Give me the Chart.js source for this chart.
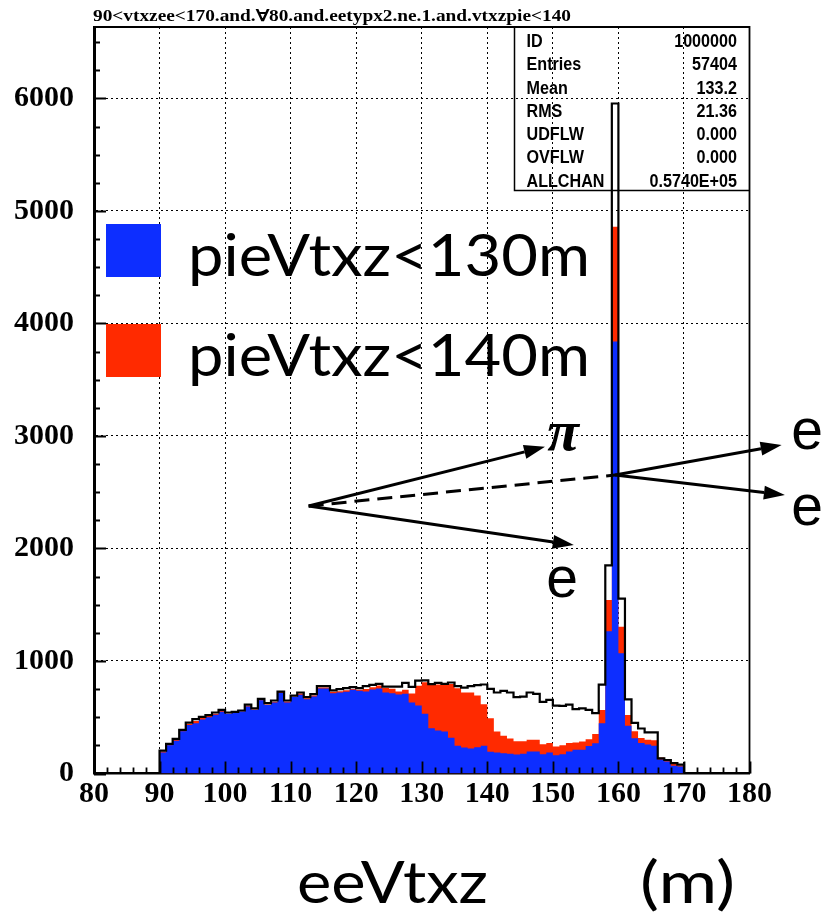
<!DOCTYPE html>
<html>
<head>
<meta charset="utf-8">
<script src="https://cdn.jsdelivr.net/npm/chart.js@4/dist/chart.umd.min.js"></script>
<style>
  html, body { margin: 0; padding: 0; background: #fff; }
  canvas { display: block; }
</style>
</head>
<body>
<canvas id="c" width="822" height="915"></canvas>
<script>
// Histogram binning: 1 m bins starting at 90 m
const binStart = 90;
const binWidth = 1;

// All ee vertices (counts per bin, 90..169)
const totalCounts = [
  204, 264, 308, 388, 453, 483, 504, 518, 542, 566,
  542, 548, 560, 613, 578, 663, 625, 649, 728, 649,
  693, 720, 678, 705, 776, 776, 738, 750, 758, 767,
  758, 776, 788, 797, 773, 773, 773, 806, 770, 826,
  827, 794, 806, 797, 809, 776, 764, 776, 785, 791,
  753, 720, 735, 720, 678, 684, 720, 708, 637, 655,
  604, 601, 613, 572, 578, 565, 536, 790, 1850, 5955,
  1555, 658, 450, 400, 366, 366, 134, 120, 92, 78
];

// Events with pieVtxz < 140 m
const below140 = [
  196, 258, 300, 380, 440, 466, 495, 510, 530, 556,
  530, 540, 552, 602, 568, 660, 614, 638, 726, 640,
  682, 710, 668, 694, 764, 764, 726, 730, 740, 752,
  744, 752, 767, 782, 761, 753, 729, 744, 711, 780,
  812, 788, 790, 790, 795, 758, 720, 720, 693, 616,
  492, 373, 335, 311, 287, 287, 299, 299, 261, 270,
  240, 252, 270, 276, 284, 305, 350, 565, 1542, 4860,
  1305, 520, 375, 316, 300, 295, 143, 113, 86, 70
];

// Events with pieVtxz < 130 m
const below130 = [
  187, 252, 290, 376, 430, 447, 480, 500, 522, 548,
  530, 540, 552, 596, 565, 652, 608, 630, 718, 632,
  680, 700, 660, 685, 755, 755, 714, 720, 726, 744,
  735, 729, 747, 756, 720, 714, 702, 708, 631, 604,
  530, 403, 382, 373, 317, 246, 231, 222, 234, 246,
  193, 187, 181, 175, 169, 175, 196, 196, 172, 187,
  163, 172, 196, 210, 210, 245, 268, 446, 1265, 3840,
  1068, 425, 313, 272, 258, 246, 124, 107, 68, 62
];

// Axes
const xRange = [80, 180];
const yRange = [0, 6635];
const xTickValues = [80, 90, 100, 110, 120, 130, 140, 150, 160, 170, 180];
const yTickValues = [0, 1000, 2000, 3000, 4000, 5000, 6000];
const xMinorStep = 2;
const yMinorStep = 250;

// Texts
const titleText = '90<vtxzee<170.and.\u220080.and.eetypx2.ne.1.and.vtxzpie<140';
const statLabels = ['ID', 'Entries', 'Mean', 'RMS', 'UDFLW', 'OVFLW', 'ALLCHAN'];
const statValues = ['1000000', '57404', '133.2', '21.36', '0.000', '0.000', '0.5740E+05'];
const legendLabels = ['pieVtxz<130m', 'pieVtxz<140m'];
const axisTitle = 'eeVtxz';
const axisUnit = '(m)';

const BLUE = '#0d2eff';
const RED = '#ff2a00';

// Histogram as a closed step outline: rises at the first edge, falls at the last
function stepPoints(counts) {
  const pts = [{ x: binStart, y: 0 }];
  counts.forEach((v, i) => pts.push({ x: binStart + i * binWidth, y: v }));
  pts.push({ x: binStart + counts.length * binWidth, y: 0 });
  return pts;
}

function drawFitted(ctx, text, x, yb, font, width, align) {
  ctx.save();
  ctx.font = font;
  const w = ctx.measureText(text).width;
  const s = width ? width / w : 1;
  ctx.translate(x, yb);
  ctx.scale(s, 1);
  ctx.textAlign = align || 'left';
  ctx.textBaseline = 'alphabetic';
  ctx.fillText(text, 0, 0);
  ctx.restore();
}

function arrow(ctx, p0, p1, headLen, headHalf) {
  const ang = Math.atan2(p1[1] - p0[1], p1[0] - p0[0]);
  const bx = p1[0] - headLen * Math.cos(ang);
  const by = p1[1] - headLen * Math.sin(ang);
  ctx.beginPath();
  ctx.moveTo(p0[0], p0[1]);
  ctx.lineTo(bx, by);
  ctx.stroke();
  ctx.beginPath();
  ctx.moveTo(p1[0], p1[1]);
  ctx.lineTo(bx + headHalf * Math.sin(ang), by - headHalf * Math.cos(ang));
  ctx.lineTo(bx - headHalf * Math.sin(ang), by + headHalf * Math.cos(ang));
  ctx.closePath();
  ctx.fill();
}

const decor = {
  id: 'decor',
  beforeDraw(chart) {
    const ctx = chart.ctx;
    ctx.save();
    ctx.fillStyle = '#fff';
    ctx.fillRect(0, 0, chart.width, chart.height);
    ctx.restore();
  },
  afterDraw(chart) {
    const { ctx, chartArea: a, scales: { x, y } } = chart;
    const P = (xv, yv) => [x.getPixelForValue(xv), y.getPixelForValue(yv)];
    ctx.save();

    // inward tick marks
    ctx.strokeStyle = '#000';
    ctx.lineWidth = 1.8;
    ctx.beginPath();
    for (let v = yRange[0]; v <= yRange[1]; v += yMinorStep) {
      const py = Math.round(y.getPixelForValue(v)) + 0.5;
      const len = yTickValues.includes(v) ? 12 : 6;
      ctx.moveTo(a.left, py);
      ctx.lineTo(a.left + len, py);
    }
    for (let v = xRange[0]; v <= xRange[1]; v += xMinorStep) {
      const px = Math.round(x.getPixelForValue(v)) + 0.5;
      const len = xTickValues.includes(v) ? 12 : 6;
      ctx.moveTo(px, a.bottom);
      ctx.lineTo(px, a.bottom - len);
    }
    ctx.stroke();

    // top and right frame
    ctx.lineWidth = 1.8;
    ctx.beginPath();
    ctx.moveTo(a.left, a.top);
    ctx.lineTo(a.right, a.top);
    ctx.lineTo(a.right, a.bottom);
    ctx.stroke();

    // title
    ctx.fillStyle = '#000';
    drawFitted(ctx, titleText, a.left - 1, a.top - 6, "bold 16px 'Liberation Serif', serif", 478);

    // statistics box
    const bl = a.right - 235;
    const bb = a.top + 163.5;
    ctx.lineWidth = 1.5;
    ctx.beginPath();
    ctx.moveTo(bl, a.top);
    ctx.lineTo(bl, bb);
    ctx.lineTo(a.right, bb);
    ctx.stroke();
    const statFont = "bold 18px 'Liberation Sans', Arial, sans-serif";
    ctx.font = statFont;
    const sx = 78 / ctx.measureText('ALLCHAN').width;
    statLabels.forEach((lab, i) => {
      const yb = a.top + 20 + i * 23.25;
      ctx.save();
      ctx.translate(bl + 12, yb);
      ctx.scale(sx, 1);
      ctx.font = statFont;
      ctx.textAlign = 'left';
      ctx.fillText(lab, 0, 0);
      ctx.restore();
      ctx.save();
      ctx.translate(a.right - 12.5, yb);
      ctx.scale(sx, 1);
      ctx.font = statFont;
      ctx.textAlign = 'right';
      ctx.fillText(statValues[i], 0, 0);
      ctx.restore();
    });

    // legend
    const legendFont = "58px Lato, 'Open Sans', sans-serif";
    [[BLUE, 224], [RED, 324]].forEach(([col, top], i) => {
      ctx.fillStyle = col;
      ctx.fillRect(a.left + 12, top, 55, 53);
      ctx.fillStyle = '#000';
      drawFitted(ctx, legendLabels[i], a.left + 94, top + 52, legendFont, 402);
    });

    // decay sketch: pi + e from the first vertex, e+ e- pair from the second
    const vA = P(112.75, 2378);
    const vB = P(159.5, 2653);
    ctx.strokeStyle = '#000';
    ctx.fillStyle = '#000';
    ctx.lineWidth = 3;
    ctx.lineCap = 'butt';
    arrow(ctx, vA, P(148.8, 2904), 21, 7);
    arrow(ctx, vA, P(153.2, 2031), 21, 7);
    arrow(ctx, vB, P(184.9, 2920), 21, 7);
    arrow(ctx, vB, P(185.4, 2475), 21, 7);
    ctx.setLineDash([15, 8]);
    ctx.beginPath();
    ctx.moveTo(vA[0], vA[1]);
    ctx.lineTo(vB[0], vB[1]);
    ctx.stroke();
    ctx.setLineDash([]);

    const piPos = P(151.55, 2875);
    drawFitted(ctx, '\u03c0', piPos[0], piPos[1], "bold italic 58px 'Liberation Serif', serif", 0, 'center');
    const eFont = "57px 'Liberation Sans', Arial, sans-serif";
    [P(151.4, 1569), P(188.8, 2884), P(188.8, 2208)].forEach(p => {
      drawFitted(ctx, 'e', p[0], p[1], eFont, 0, 'center');
    });

    // axis title
    const titleFont = "58px Lato, 'Open Sans', sans-serif";
    drawFitted(ctx, axisTitle, 297, 903, titleFont, 191);
    drawFitted(ctx, axisUnit, 640, 903, titleFont, 95);

    ctx.restore();
  }
};

const tickFont = { family: "'Liberation Serif', 'Times New Roman', serif", weight: 'bold', size: 30 };

new Chart(document.getElementById('c'), {
  type: 'line',
  data: {
    datasets: [
      {
        label: 'all',
        data: stepPoints(totalCounts),
        stepped: true,
        borderColor: '#000',
        borderWidth: 2.2,
        fill: false,
        pointRadius: 0
      },
      {
        label: legendLabels[0],
        data: stepPoints(below130),
        stepped: true,
        borderColor: 'rgba(0,0,0,0)',
        borderWidth: 1,
        backgroundColor: BLUE,
        fill: 'origin',
        pointRadius: 0
      },
      {
        label: legendLabels[1],
        data: stepPoints(below140),
        stepped: true,
        borderColor: 'rgba(0,0,0,0)',
        borderWidth: 1,
        backgroundColor: RED,
        fill: 'origin',
        pointRadius: 0
      }
    ]
  },
  options: {
    responsive: false,
    animation: false,
    devicePixelRatio: 1,
    events: [],
    layout: { padding: { left: 0, top: 27, right: 72.5, bottom: 81.5 } },
    plugins: {
      legend: { display: false },
      tooltip: { enabled: false },
      title: { display: false }
    },
    scales: {
      x: {
        type: 'linear',
        min: xRange[0],
        max: xRange[1],
        z: 1,
        afterBuildTicks: s => { s.ticks = xTickValues.map(v => ({ value: v })); },
        afterFit: s => { s.height = 60; s.paddingLeft = 0; s.paddingRight = 0; },
        ticks: { autoSkip: false, maxRotation: 0, padding: 3, color: '#000', font: tickFont, callback: v => String(v) },
        grid: { color: '#000', lineWidth: 1, drawTicks: false },
        border: { display: true, color: '#000', width: 2.5, dash: [2, 3] }
      },
      y: {
        type: 'linear',
        min: yRange[0],
        max: yRange[1],
        z: 1,
        afterBuildTicks: s => { s.ticks = yTickValues.map(v => ({ value: v })); },
        afterFit: s => { s.width = 94; s.paddingTop = 0; s.paddingBottom = 0; },
        ticks: { autoSkip: false, padding: 20, color: '#000', font: tickFont, callback: v => String(v) },
        grid: { color: '#000', lineWidth: 1, drawTicks: false },
        border: { display: true, color: '#000', width: 3, dash: [2, 3] }
      }
    }
  },
  plugins: [decor]
});
</script>
</body>
</html>
